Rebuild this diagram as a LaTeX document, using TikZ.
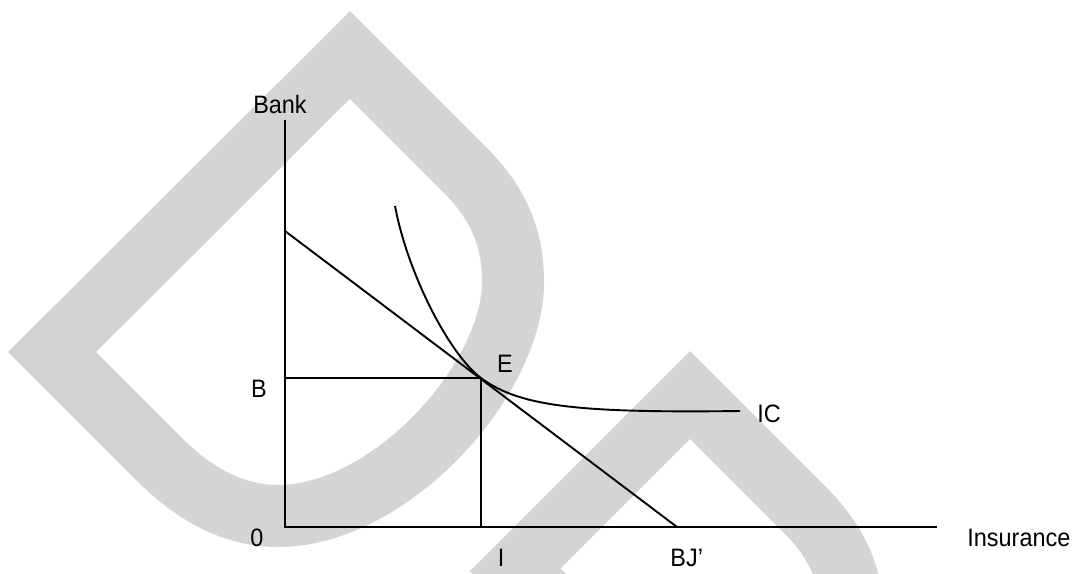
\documentclass[tikz,border=0pt]{standalone}
\usepackage{fontspec}
\setmainfont{Liberation Sans}[FakeStretch=0.93]
\definecolor{wmgray}{RGB}{212,212,212}
\begin{document}
\begin{tikzpicture}[x=0.5pt,y=-0.5pt,
  wm/.style={draw=wmgray,line width=31pt,line join=miter,miter limit=10},
  axis/.style={draw=black,line width=1.05pt},
  curveline/.style={draw=black,line width=0.95pt},
  lbl/.style={inner sep=0pt,font=\fontsize{12.6}{15}\selectfont}]
\useasboundingbox (0,0) rectangle (1079,573);
\fill[white] (0,0) rectangle (1079,573);
% watermark
\begin{scope}
\clip (0,0) rectangle (1079,573);
\draw[wm] (52,352) -- (350,55) -- (465,170) .. controls (500,205) and (513,240) .. (513,282)
  .. controls (513,380) and (390,516) .. (278,516) .. controls (230,516) and (190,490) .. (160,460) -- cycle;
\draw[wm] (590,636) -- (515,570) -- (690,395) -- (805,510) .. controls (840,545) and (853,580) .. (853,622);
\end{scope}
% coordinates
\coordinate (O) at (285,527);
\coordinate (Ytop) at (285,120);
\coordinate (Xend) at (937,527);
\coordinate (Bint) at (285,231);
\coordinate (BJ) at (677,527);
\coordinate (E) at (481,378);
\coordinate (Bpt) at (285,378);
\coordinate (Ipt) at (481,527);
\coordinate (ICs) at (395,206);
\coordinate (ICe) at (740,411);
% axes
\draw[axis] (Ytop) -- (O) -- (Xend);
% budget line
\draw[curveline] (Bint) -- (BJ);
% guide lines
\draw[curveline] (Bpt) -- (E) -- (Ipt);
% indifference curve
\draw[curveline] (ICs) .. controls (408,275) and (450,355) .. (E)
  .. controls (520,407) and (580,413) .. (ICe);
% labels
\node[lbl,anchor=base] (lBank) at (280,113) {Bank};
\node[lbl,anchor=base] (lB) at (259,397) {B};
\node[lbl,anchor=base] (l0) at (257,546) {0};
\node[lbl,anchor=base] (lE) at (505,372) {E};
\node[lbl,anchor=base west] (lIC) at (757,422) {IC};
\node[lbl,anchor=base west] (lIns) at (967,546) {Insurance};
\node[lbl,anchor=base] (lI) at (501,566) {I};
\node[lbl,anchor=base west] (lBJ) at (670,566) {BJ’};
\end{tikzpicture}
\end{document}
